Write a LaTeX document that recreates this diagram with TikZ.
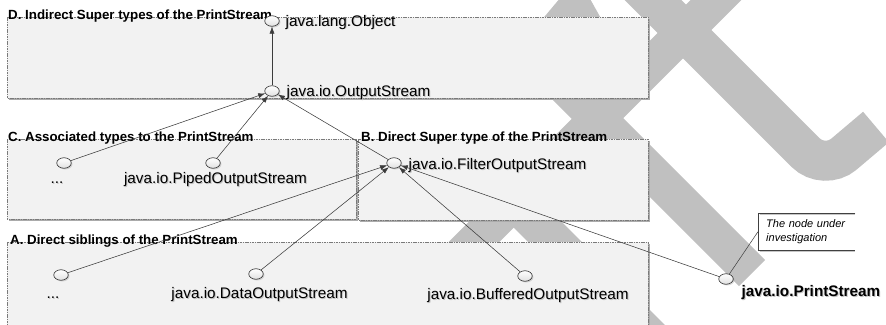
\documentclass[tikz,border=0pt]{standalone}
\usepackage{fontspec}
\setmainfont{Liberation Sans}
\usetikzlibrary{shapes.geometric,arrows.meta,shadows}
\definecolor{wm}{HTML}{C0C0C0}
\definecolor{boxfill}{HTML}{F2F2F2}
\definecolor{boxline}{HTML}{7A7A7A}
\definecolor{boxshadow}{HTML}{ABABAB}
\definecolor{linec}{HTML}{3C3C3C}
\definecolor{labshadow}{HTML}{C4C4C4}
\newcommand\shlabel[4]{%
  \node[lab, text=labshadow, anchor=#2, xshift=1pt, yshift=-1pt] (#1s) at #3 {#4};
  \node[lab, anchor=#2] (#1) at #3 {#4};}
\begin{document}
\begin{tikzpicture}[x=1pt,y=-1pt,
  grp/.style={fill=boxfill, draw=boxline, line width=0.6pt, dash pattern=on 1.6pt off 0.8pt},
  grpsh/.style={fill=boxshadow},
  hdr/.style={font=\bfseries\fontsize{13.3}{16}\selectfont, inner sep=0pt, anchor=base west},
  lab/.style={font=\fontsize{15.3}{18}\selectfont, inner sep=0pt},
  cls/.style={ellipse, draw=black!85, line width=0.6pt, inner sep=0pt,
    minimum width=14.5pt, minimum height=10.5pt, top color=white, bottom color=black!12,
    drop shadow={shadow xshift=1.2pt, shadow yshift=-1.2pt, opacity=0.3}},
  gen/.style={draw=linec, line width=0.55pt, -{Latex[length=7pt,width=5pt]}},
  note/.style={font=\itshape\fontsize{11}{13.4}\selectfont, align=left, text width=81pt,
    inner xsep=8pt, inner ysep=0pt, minimum height=37pt, minimum width=97pt},
]
\useasboundingbox (0,0) rectangle (886,324);
% watermark
\fill[wm] (540,22) -- (561,-3) -- (589,-3) -- (603,22) -- cycle;
\draw[wm, line width=40pt, rounded corners=26pt] (598,-55) -- (824,171) -- (876,127);
\draw[wm, line width=36pt] (750,-34) -- (420,296);
\draw[wm, line width=37pt] (530,51) -- (752,273);
\draw[wm, line width=38pt] (490,177) -- (720,407);
% group boxes
\fill[grpsh] (9,19) rectangle (650,100);
\path[grp] (7,17) rectangle (648,98);
\fill[grpsh] (9,141) rectangle (358,221);
\path[grp] (7,139) rectangle (356,219);
\fill[grpsh] (360,141) rectangle (650,222);
\path[grp] (358,139) rectangle (648,220);
\fill[grpsh] (9,244) rectangle (650,340);
\path[grp] (7,242) rectangle (648,340);
\node[hdr] (hD) at (8,19.5) {D. Indirect Super types of the PrintStream};
\node[hdr] (hC) at (8,141.7) {C. Associated types to the PrintStream};
\node[hdr] (hB) at (361,141.7) {B. Direct Super type of the PrintStream};
\node[hdr] (hA) at (10,244.5) {A. Direct siblings of the PrintStream};
% classes
\node[cls] (obj) at (272,21) {};
\node[cls] (os) at (272,91) {};
\node[cls] (dotsC) at (64,163) {};
\node[cls] (piped) at (213,163) {};
\node[cls] (filt) at (394,163) {};
\node[cls] (dotsA) at (61,275) {};
\node[cls] (data) at (256,274) {};
\node[cls] (buff) at (525,276) {};
\node[cls] (ps) at (726,279) {};
% labels
\shlabel{lobj}{base west}{(285.5,26)}{java.lang.Object}
\shlabel{los}{base west}{(286.5,96)}{java.io.OutputStream}
\shlabel{lfilt}{base west}{(408.5,169.5)}{java.io.FilterOutputStream}
\shlabel{ldotsC}{base}{(57,183)}{...}
\shlabel{lpiped}{base}{(215.5,183)}{java.io.PipedOutputStream}
\shlabel{ldotsA}{base}{(53,298)}{...}
\shlabel{ldata}{base}{(259.5,298.5)}{java.io.DataOutputStream}
\shlabel{lbuff}{base}{(528,299)}{java.io.BufferedOutputStream}
\shlabel{lps}{base west}{(741.5,296)}{\bfseries java.io.PrintStream}
% generalisations
\draw[gen] (os) -- (obj);
\draw[gen] (dotsC) -- (os);
\draw[gen] (piped) -- (os);
\draw[gen] (filt) -- (os);
\draw[gen] (dotsA) -- (filt);
\draw[gen] (data) -- (filt);
\draw[gen] (buff) -- (filt);
\draw[gen] (ps) -- (filt);
% callout
\node[note, anchor=north west] (note) at (758,213) {The node under\\investigation};
\draw[gray!45, line width=1pt] ([xshift=1.5pt,yshift=-1.4pt]note.north west) -- ([yshift=-1.4pt]note.north east);
\draw[gray!45, line width=1pt] ([xshift=1.5pt,yshift=-1.4pt]note.south west) -- ([yshift=-1.4pt]note.south east);
\draw[black!75, line width=0.6pt] (note.north east) -- (note.north west) -- (note.south west) -- (note.south east);
\draw[linec, line width=0.5pt] (note.west) -- (ps);
\end{tikzpicture}
\end{document}
